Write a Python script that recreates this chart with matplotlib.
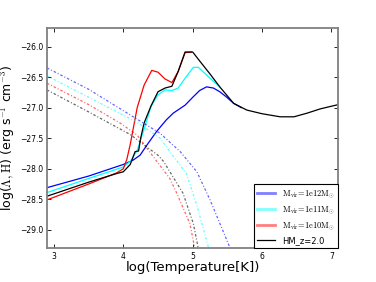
import matplotlib
matplotlib.use("Agg")
import matplotlib.pyplot as plt
from matplotlib.lines import Line2D

plt.rcParams['mathtext.fontset'] = 'cm'

# cooling curves (solid)
t_blue = [2.9, 3.5, 4.0, 4.14, 4.24, 4.36, 4.48, 4.62, 4.72, 4.89, 5.01, 5.1, 5.2, 5.3, 5.39, 5.48, 5.59, 5.7]
c_blue = [-28.31, -28.12, -27.93, -27.86, -27.78, -27.58, -27.39, -27.2, -27.09, -26.96, -26.82, -26.72, -26.66, -26.68, -26.74, -26.82, -26.93, -27.0]

t_cyan = [2.9, 3.5, 3.9, 4.0, 4.1, 4.2, 4.3, 4.4, 4.5, 4.6, 4.7, 4.79, 4.89, 5.01, 5.08, 5.25, 5.39]
c_cyan = [-28.39, -28.16, -28.01, -27.97, -27.88, -27.7, -27.35, -26.98, -26.79, -26.71, -26.72, -26.68, -26.52, -26.34, -26.34, -26.52, -26.66]

t_red = [2.9, 3.5, 3.9, 4.0, 4.05, 4.1, 4.15, 4.2, 4.3, 4.41, 4.5, 4.6, 4.7, 4.79, 4.89, 4.98]
c_red = [-28.51, -28.25, -28.07, -28.0, -27.85, -27.6, -27.3, -27.0, -26.63, -26.39, -26.42, -26.53, -26.59, -26.41, -26.1, -26.09]

t_black = [2.9, 3.5, 3.9, 4.0, 4.1, 4.17, 4.22, 4.25, 4.3, 4.4, 4.5, 4.6, 4.7, 4.79, 4.89, 5.0, 5.11, 5.25, 5.39,
           5.59, 5.78, 6.0, 6.26, 6.46, 6.65, 6.84, 7.1]
c_black = [-28.45, -28.22, -28.08, -28.05, -27.93, -27.72, -27.71, -27.5, -27.25, -26.97, -26.74, -26.68, -26.65, -26.41,
           -26.09, -26.09, -26.25, -26.45, -26.66, -26.93, -27.04, -27.1, -27.15, -27.15, -27.09, -27.02, -26.95]

# heating curves (dash-dot)
h_t_blue = [2.9, 3.5, 4.2, 4.53, 4.82, 5.06, 5.25, 5.54]
h_blue = [-26.35, -26.7, -27.19, -27.42, -27.72, -28.05, -28.51, -29.3]

h_t_cyan = [2.9, 3.5, 4.2, 4.53, 4.67, 4.91, 5.06, 5.23]
h_cyan = [-26.48, -26.83, -27.24, -27.5, -27.72, -28.08, -28.6, -29.3]

h_t_red = [2.9, 3.5, 3.95, 4.2, 4.43, 4.67, 4.77, 4.96, 5.03]
h_red = [-26.6, -26.95, -27.25, -27.45, -27.8, -28.16, -28.4, -28.9, -29.3]

h_t_black = [2.9, 3.5, 4.1, 4.5, 4.58, 4.86, 5.01, 5.08]
h_black = [-26.71, -27.07, -27.44, -27.78, -27.88, -28.4, -28.9, -29.3]

labels = [r'$\mathrm{M_{vir}\!=\!1e12M_{\odot}}$', r'$\mathrm{M_{vir}\!=\!1e11M_{\odot}}$',
          r'$\mathrm{M_{vir}\!=\!1e10M_{\odot}}$', 'HM_z=2.0']

fig = plt.figure(figsize=(3.76, 2.82), dpi=100)
ax = fig.add_axes([0.125, 0.12, 0.775, 0.78])

ax.plot(t_blue, c_blue, color='b', lw=0.9)
ax.plot(t_cyan, c_cyan, color='cyan', lw=0.9)
ax.plot(t_red, c_red, color='r', lw=0.9)
ax.plot(t_black, c_black, color='k', lw=0.9)

dd = (0, (2.0, 1.6, 0.8, 1.6))
ax.plot(h_t_blue, h_blue, color='b', ls=dd, lw=0.9, alpha=0.6)
ax.plot(h_t_cyan, h_cyan, color='cyan', ls=dd, lw=0.9, alpha=0.6)
ax.plot(h_t_red, h_red, color='r', ls=dd, lw=0.9, alpha=0.6)
ax.plot(h_t_black, h_black, color='k', ls=dd, lw=0.9, alpha=0.6)

ax.set_xlim(2.9, 7.1)
ax.set_ylim(-29.3, -25.7)
ax.set_xticks([3, 4, 5, 6, 7])
ax.set_yticks([-29.0, -28.5, -28.0, -27.5, -27.0, -26.5, -26.0])
ax.tick_params(direction='in', top=True, right=True, labelsize=5.5, length=3, width=0.6, pad=2.5)
for s in ax.spines.values():
    s.set_color('#808080')
    s.set_linewidth(1.3)

ax.set_xlabel('log(Temperature[K])', fontsize=9.5, labelpad=0)
ax.set_ylabel(r'log($\mathrm{\Lambda,H}$) (erg s$^{-1}$ cm$^{-3}$)', fontsize=9, labelpad=2)

handles = [Line2D([], [], color='b', lw=2, alpha=0.5),
           Line2D([], [], color='cyan', lw=2, alpha=0.5),
           Line2D([], [], color='r', lw=2, alpha=0.5),
           Line2D([], [], color='k', lw=0.9)]
leg = ax.legend(handles, labels, loc='lower right', fontsize=6, fancybox=False,
                borderaxespad=0, handlelength=2.2, labelspacing=0.5, framealpha=1)
leg.get_frame().set_edgecolor('k')
leg.get_frame().set_linewidth(0.8)

fig.savefig('out.png', dpi=100)
